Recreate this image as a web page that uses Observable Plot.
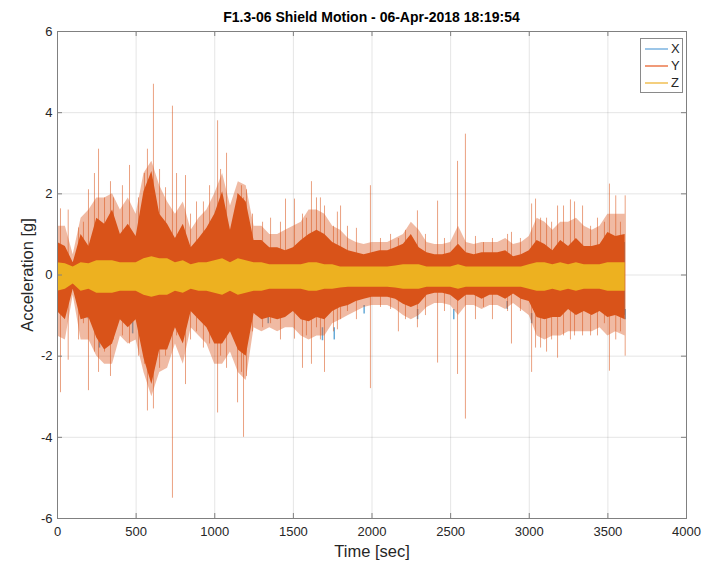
<!DOCTYPE html>
<html>
<head>
<meta charset="utf-8">
<script src="https://cdn.jsdelivr.net/npm/d3@7"></script>
<script src="https://cdn.jsdelivr.net/npm/@observablehq/plot@0.6"></script>
<style>
  html, body { margin: 0; padding: 0; background: #fff; }
  body { font-family: "Liberation Sans", Arial, sans-serif; }
  #wrap { position: relative; width: 716px; height: 563px; overflow: hidden; }
  #title { position: absolute; left: 57px; width: 629px; top: 9px; text-align: center;
           font-weight: bold; font-size: 14px; color: #000; white-space: nowrap; }
  #legend { position: absolute; left: 640px; top: 38px; width: 43px; height: 55px;
            border: 1px solid #8a8a8a; background: #fff; box-sizing: border-box;
            font-size: 13px; color: #262626; }
  .row { position: absolute; left: 0; height: 17px; width: 100%; }
  .row .ln { position: absolute; left: 4px; top: 8px; width: 23px; height: 1.5px; display: block; }
  .row .lb { position: absolute; left: 30px; top: 0; line-height: 17px; }
  #wrap svg { display: block; }
</style>
</head>
<body>
<div id="wrap">
  <div id="title"></div>
  <div id="legend"></div>
</div>
<script>
// ---------- data ----------
const titleText = "F1.3-06 Shield Motion - 06-Apr-2018 18:19:54";
const xLabel = "Time [sec]";
const yLabel = "Acceleration [g]";
const seriesNames = ["X", "Y", "Z"];
const legendColors = ["#9cc6e8", "#f09a78", "#f4cf7e"];

const xTicks = [0, 500, 1000, 1500, 2000, 2500, 3000, 3500, 4000];
const yTicks = [-6, -4, -2, 0, 2, 4, 6];

// envelope sample times [sec]
const sampleTime = [
  0, 50, 100, 150, 200, 250, 300, 350, 400, 450,
  500, 550, 600, 650, 700, 750, 800, 850, 900, 950,
  1000, 1050, 1100, 1150, 1200, 1250, 1300, 1350, 1400, 1450,
  1500, 1550, 1600, 1650, 1700, 1750, 1800, 1850, 1900, 1950,
  2000, 2050, 2100, 2150, 2200, 2250, 2300, 2350, 2400, 2450,
  2500, 2550, 2600, 2650, 2700, 2750, 2800, 2850, 2900, 2950,
  3000, 3050, 3100, 3150, 3200, 3250, 3300, 3350, 3400, 3450,
  3500, 3550, 3610
];

// X (blue) envelope (mostly hidden under Y)
const xHigh = [
  0.6,0.55,0.25,0.8,0.55,1.1,1.0,1.2,0.8,1.0,
  0.75,1.5,1.9,1.2,1.0,0.7,1.0,0.55,0.7,0.9,
  1.2,1.5,0.9,1.5,1.4,0.65,0.65,0.55,0.55,0.5,
  0.55,0.65,0.8,0.85,0.8,0.65,0.55,0.5,0.45,0.4,
  0.45,0.5,0.5,0.55,0.6,0.8,0.55,0.45,0.4,0.4,
  0.45,0.6,0.45,0.4,0.45,0.45,0.45,0.5,0.4,0.4,
  0.5,0.7,0.6,0.5,0.7,0.55,0.7,0.55,0.55,0.6,
  0.85,0.75,0.8
];
const xLow = [
  -0.8,-0.95,-0.3,-1.0,-0.95,-1.4,-1.7,-1.55,-1.0,-1.2,
  -1.0,-1.9,-2.5,-1.7,-1.7,-1.2,-1.55,-0.8,-1.0,-1.2,
  -1.55,-1.55,-1.3,-1.7,-1.85,-0.85,-1.0,-0.95,-1.0,-0.95,
  -0.8,-1.0,-1.05,-0.95,-1.0,-0.8,-0.7,-0.65,-0.55,-0.5,
  -0.45,-0.45,-0.45,-0.5,-0.62,-0.7,-0.62,-0.42,-0.38,-0.38,
  -0.42,-0.55,-0.42,-0.42,-0.5,-0.42,-0.42,-0.5,-0.4,-0.5,
  -0.55,-0.95,-1.0,-0.95,-0.95,-0.75,-0.9,-0.8,-0.9,-0.8,
  -0.95,-0.9,-1.0
];

// Y (orange) dense core envelope
const yHigh = [
  0.8,0.7,0.3,1.0,0.7,1.4,1.25,1.6,1.0,1.25,
  0.95,2.05,2.55,1.5,1.25,0.9,1.25,0.67,0.9,1.15,
  1.5,2.05,1.1,2.0,1.8,0.85,0.85,0.67,0.67,0.6,
  0.67,0.85,1.0,1.1,1.0,0.8,0.7,0.6,0.55,0.5,
  0.55,0.6,0.6,0.67,0.76,1.0,0.67,0.55,0.5,0.5,
  0.55,0.76,0.55,0.5,0.55,0.55,0.55,0.6,0.45,0.5,
  0.6,0.85,0.75,0.6,0.85,0.7,0.9,0.7,0.7,0.75,
  1.05,0.95,1.0
];
const yLow = [
  -0.9,-1.1,-0.35,-1.1,-1.05,-1.55,-1.85,-1.7,-1.1,-1.3,
  -1.1,-2.05,-2.7,-1.85,-1.85,-1.3,-1.7,-0.9,-1.1,-1.3,
  -1.7,-1.7,-1.4,-1.85,-2.0,-0.95,-1.1,-1.05,-1.1,-1.05,
  -0.9,-1.1,-1.15,-1.05,-1.1,-0.9,-0.8,-0.75,-0.65,-0.6,
  -0.55,-0.55,-0.55,-0.6,-0.72,-0.8,-0.72,-0.5,-0.45,-0.45,
  -0.5,-0.65,-0.5,-0.5,-0.6,-0.5,-0.5,-0.6,-0.47,-0.6,
  -0.65,-1.05,-1.1,-1.05,-1.05,-0.85,-1.0,-0.9,-1.0,-0.9,
  -1.05,-1.0,-1.1
];
// Y (orange) light outer halo envelope
const yHaloHigh = [
  1.2,1.2,0.5,1.4,1.6,1.9,1.9,2.0,1.6,1.9,
  1.5,2.5,2.8,2.2,1.8,1.5,1.8,1.1,1.4,1.6,
  2.0,2.5,1.7,2.3,2.2,1.2,1.2,1.0,1.0,1.1,
  1.2,1.3,1.6,1.6,1.5,1.2,1.1,0.9,0.8,0.75,
  0.8,0.8,0.8,0.9,1.0,1.3,1.1,0.8,0.75,0.75,
  0.8,1.2,0.8,0.75,0.8,0.8,0.8,0.9,0.75,0.8,
  0.95,1.4,1.3,1.1,1.3,1.3,1.4,1.2,1.1,1.2,
  1.5,1.5,1.5
];
const yHaloLow = [
  -1.5,-1.6,-0.5,-1.6,-1.6,-2.0,-2.2,-2.2,-1.5,-1.7,
  -1.6,-2.4,-3.0,-2.4,-2.3,-1.7,-2.2,-1.3,-1.5,-1.7,
  -2.2,-2.2,-1.9,-2.4,-2.6,-1.3,-1.4,-1.3,-1.4,-1.3,
  -1.3,-1.5,-1.6,-1.5,-1.5,-1.2,-1.1,-1.0,-0.9,-0.8,
  -0.75,-0.75,-0.75,-0.85,-1.0,-1.1,-1.0,-0.8,-0.7,-0.7,
  -0.75,-1.0,-0.75,-0.75,-0.85,-0.75,-0.75,-0.85,-0.7,-0.85,
  -1.0,-1.5,-1.6,-1.5,-1.5,-1.4,-1.4,-1.4,-1.4,-1.3,
  -1.5,-1.4,-1.5
];

// Y (orange) individual spikes: time, peak, trough
const spikeTime = [
  19, 68, 134, 165, 197, 235, 261, 299, 337, 356,
  413, 458, 515, 553, 572, 610, 649, 687, 731, 757,
  814, 846, 884, 928, 967, 1018, 1037, 1075, 1145, 1170,
  1183, 1202, 1240, 1304, 1355, 1418, 1450, 1507, 1558, 1583,
  1615, 1647, 1672, 1698, 1755, 1780, 1800, 1844, 1901, 1990,
  2054, 2118, 2168, 2213, 2289, 2340, 2417, 2461, 2544, 2594,
  2658, 2709, 2766, 2862, 2887, 2944, 3015, 3040, 3072, 3110,
  3142, 3180, 3218, 3262, 3288, 3339, 3390, 3434, 3478, 3510,
  3550, 3580, 3610
];
const spikeHigh = [
  1.63, 1.6, 1.16, 1.3, 2.1, 2.5, 3.1, 1.9, 2.3, 1.9,
  2.2, 2.7, 1.9, 2.5, 3.1, 4.7, 2.6, 2.15, 4.16, 2.5,
  2.45, 1.5, 1.8, 1.8, 2.2, 3.8, 2.6, 3.0, 2.0, 2.2,
  1.9, 2.1, 1.5, 1.3, 1.4, 1.3, 1.87, 1.87, 1.5, 1.4,
  2.3, 1.9, 1.9, 1.7, 1.2, 1.55, 1.7, 1.2, 1.15, 2.2,
  0.9, 1.0, 0.9, 1.1, 1.58, 1.0, 1.82, 0.9, 2.8, 3.47,
  0.95, 0.8, 0.9, 1.0, 1.05, 0.9, 1.75, 1.87, 1.4, 1.4,
  1.3, 1.7, 1.7, 1.85, 1.8, 1.7, 1.2, 1.4, 1.3, 2.24,
  1.95, 1.3, 1.95
];
const spikeLow = [
  -2.9, -2.1, -1.6, -1.2, -2.85, -1.9, -2.4, -1.9, -2.5, -1.6,
  -1.5, -1.7, -2.0, -2.2, -3.35, -3.3, -2.3, -2.0, -5.5, -1.5,
  -2.7, -1.6, -1.4, -1.8, -1.7, -3.4, -2.0, -2.3, -3.15, -2.4,
  -4.0, -2.5, -1.4, -1.3, -1.2, -1.6, -1.0, -1.58, -2.3, -1.5,
  -2.2, -1.3, -1.6, -2.4, -1.4, -1.35, -1.1, -0.9, -1.1, -2.8,
  -0.8, -0.85, -1.4, -1.1, -1.3, -1.0, -2.17, -0.9, -2.45, -3.55,
  -1.1, -0.8, -1.1, -0.9, -1.7, -0.9, -2.4, -1.8, -1.8, -1.9,
  -1.6, -2.05, -1.5, -1.6, -1.5, -1.5, -1.5, -1.5, -1.2, -2.37,
  -1.6, -1.4, -2.0
];

// X (blue) short spots visible just below the orange: time, top, bottom
const blueSpotTime = [195, 240, 267, 343, 420, 478, 610, 1012, 1310, 1340, 1685, 1760, 1950, 2290, 2520, 2860, 3015, 3610];
const blueSpotHigh = [-0.8, -1.1, -1.45, -1.05, -0.7, -1.15, -1.2, -1.05, -0.7, -0.95, -1.3, -1.3, -0.75, -0.85, -0.85, -0.65, -0.95, -0.85];
const blueSpotLow  = [-1.08, -1.4, -1.8, -1.3, -0.9, -1.45, -1.5, -1.35, -0.9, -1.2, -1.62, -1.6, -0.96, -1.1, -1.1, -0.85, -1.2, -1.1];

// Z (yellow) envelope
const zHigh = [
  0.3,0.28,0.2,0.3,0.28,0.35,0.35,0.35,0.3,0.3,
  0.3,0.4,0.45,0.4,0.4,0.3,0.35,0.25,0.3,0.3,
  0.35,0.4,0.3,0.4,0.35,0.3,0.3,0.25,0.25,0.25,
  0.25,0.25,0.3,0.3,0.25,0.25,0.2,0.2,0.2,0.2,
  0.2,0.2,0.2,0.22,0.25,0.25,0.25,0.2,0.2,0.2,
  0.2,0.25,0.2,0.2,0.2,0.2,0.2,0.2,0.2,0.2,
  0.25,0.3,0.3,0.25,0.3,0.25,0.3,0.25,0.25,0.25,
  0.3,0.3,0.3
];
const zLow = [
  -0.4,-0.35,-0.22,-0.4,-0.35,-0.45,-0.45,-0.45,-0.4,-0.4,
  -0.4,-0.5,-0.55,-0.5,-0.5,-0.4,-0.45,-0.35,-0.4,-0.4,
  -0.45,-0.5,-0.4,-0.5,-0.45,-0.4,-0.4,-0.35,-0.35,-0.35,
  -0.35,-0.35,-0.4,-0.4,-0.35,-0.35,-0.32,-0.3,-0.3,-0.3,
  -0.3,-0.3,-0.3,-0.32,-0.35,-0.35,-0.35,-0.3,-0.3,-0.3,
  -0.3,-0.35,-0.3,-0.3,-0.3,-0.3,-0.3,-0.3,-0.3,-0.3,
  -0.35,-0.4,-0.4,-0.35,-0.4,-0.35,-0.4,-0.35,-0.35,-0.35,
  -0.4,-0.4,-0.4
];

// ---------- tables ----------
const env = sampleTime.map((t, i) => ({
  t,
  xHi: xHigh[i], xLo: xLow[i],
  yHi: yHigh[i], yLo: yLow[i],
  hHi: yHaloHigh[i], hLo: yHaloLow[i],
  zHi: zHigh[i], zLo: zLow[i]
}));
const spikes = spikeTime.map((t, i) => ({ t, hi: spikeHigh[i], lo: spikeLow[i] }));
const blueSpots = blueSpotTime.map((t, i) => ({ t, hi: blueSpotHigh[i], lo: blueSpotLow[i] }));

const cX = "#0072BD", cY = "#D95319", cZ = "#EDB120";
const axisGray = "#808080";

const chart = Plot.plot({
  width: 716,
  height: 563,
  marginLeft: 57,
  marginRight: 30,
  marginTop: 31,
  marginBottom: 45,
  style: { fontFamily: "Liberation Sans, Arial, sans-serif", fontSize: "13px", color: "#262626", background: "#fff", overflow: "visible" },
  x: { domain: [0, 4000], ticks: xTicks, tickSize: 0, tickPadding: 8, tickFormat: d => String(d), label: null },
  y: { domain: [-6, 6], ticks: yTicks, tickSize: 0, tickPadding: 5, tickFormat: d => String(d), label: null },
  marks: [
    Plot.ruleX(xTicks, { stroke: "#262626", strokeOpacity: 0.12 }),
    Plot.ruleY(yTicks, { stroke: "#262626", strokeOpacity: 0.12 }),
    // X series
    Plot.area(env, { x1: "t", y1: "xLo", y2: "xHi", fill: cX }),
    Plot.ruleX(blueSpots, { x: "t", y1: "lo", y2: "hi", stroke: cX, strokeOpacity: 0.6, strokeWidth: 1.5 }),
    // Y series
    Plot.area(env, { x1: "t", y1: "hLo", y2: "hHi", fill: cY, fillOpacity: 0.4 }),
    Plot.ruleX(spikes, { x: "t", y1: "lo", y2: "hi", stroke: cY, strokeOpacity: 0.55, strokeWidth: 1 }),
    Plot.area(env, { x1: "t", y1: "yLo", y2: "yHi", fill: cY }),
    // Z series
    Plot.area(env, { x1: "t", y1: "zLo", y2: "zHi", fill: cZ }),
    // box, ticks
    Plot.frame({ stroke: axisGray, strokeWidth: 1 }),
    Plot.tickX(xTicks, { x: d => d, insetTop: 482, stroke: axisGray }),
    Plot.tickX(xTicks, { x: d => d, insetBottom: 482, stroke: axisGray }),
    Plot.tickY(yTicks, { y: d => d, insetRight: 624, stroke: axisGray }),
    Plot.tickY(yTicks, { y: d => d, insetLeft: 624, stroke: axisGray }),
    // axis titles
    Plot.text([xLabel], { frameAnchor: "bottom", dy: 33, lineAnchor: "middle", textAnchor: "middle", fontSize: 16.5, fill: "#262626" }),
    Plot.text([yLabel], { frameAnchor: "left", dx: -30, rotate: -90, lineAnchor: "middle", textAnchor: "middle", fontSize: 16.5, fill: "#262626" })
  ]
});

document.getElementById("wrap").appendChild(chart);
document.getElementById("title").textContent = titleText;

const legend = document.getElementById("legend");
const rowTops = [1, 18, 35];
seriesNames.forEach((name, i) => {
  const row = document.createElement("div");
  row.className = "row";
  row.style.top = rowTops[i] + "px";
  const ln = document.createElement("span");
  ln.className = "ln";
  ln.style.background = legendColors[i];
  const lb = document.createElement("span");
  lb.className = "lb";
  lb.textContent = name;
  row.appendChild(ln);
  row.appendChild(lb);
  legend.appendChild(row);
});
</script>
</body>
</html>
